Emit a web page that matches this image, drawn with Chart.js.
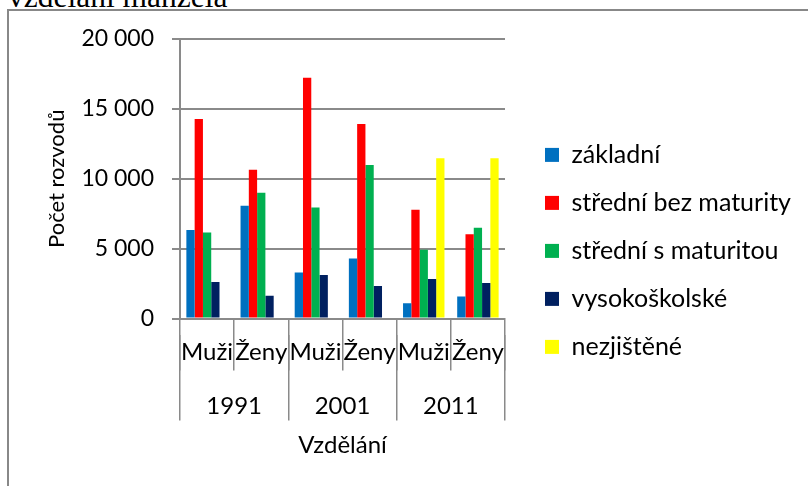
<!DOCTYPE html>
<html>
<head>
<meta charset="utf-8">
<script src="https://cdn.jsdelivr.net/npm/chart.js@4.4.1/dist/chart.umd.min.js"></script>
<style>
  html, body { margin: 0; padding: 0; background: #fff; }
  #wrap { position: relative; width: 808px; height: 486px; overflow: hidden; }
  #doctext { position: absolute; left: 8px; top: -19px; font-family: "Liberation Serif", serif; font-size: 31.5px; line-height: 31px; color: #000; white-space: nowrap; }
  #frame { position: absolute; left: 7px; top: 9px; width: 900px; height: 600px; border: 2px solid #888; }
  canvas { position: absolute; left: 0; top: 0; }
</style>
</head>
<body>
<div id="wrap">
  <div id="doctext">vzdělání manžela</div>
  <div id="frame"></div>
  <canvas id="c" width="808" height="486"></canvas>
</div>
<script>
// ---- data ----
const categories = ['Muži', 'Ženy', 'Muži', 'Ženy', 'Muži', 'Ženy'];
const years = ['1991', '2001', '2011'];
const seriesNames = ['základní', 'střední bez maturity', 'střední s maturitou', 'vysokoškolské', 'nezjištěné'];
const zakladni = [6330, 8070, 3300, 4300, 1100, 1580];
const stredniBezMaturity = [14280, 10650, 17220, 13920, 7790, 6020];
const stredniSMaturitou = [6160, 9000, 7950, 10990, 4920, 6500];
const vysokoskolske = [2610, 1630, 3110, 2320, 2820, 2540];
const nezjistene = [null, null, null, null, 11460, 11460];
const yTicks = [0, 5000, 10000, 15000, 20000];
const seriesColors = ['#0070C0', '#FF0000', '#00B050', '#002060', '#FFFF00'];

const FONT = 'Lato';
const values = [zakladni, stredniBezMaturity, stredniSMaturitou, vysokoskolske, nezjistene];

const fmt = v => String(v).replace(/\B(?=(\d{3})+(?!\d))/g, ' ');

// let the legend box reach the right edge so its labels are not clipped
const widenLegend = {
  id: 'widenLegend',
  afterLayout(chart) {
    const l = chart.legend;
    if (l) { l.right = chart.width; l.width = l.right - l.left; }
  }
};

new Chart(document.getElementById('c'), {
  type: 'bar',
  plugins: [widenLegend],
  data: {
    labels: categories,
    datasets: values.map((d, i) => ({
      label: seriesNames[i],
      data: d,
      backgroundColor: seriesColors[i],
      borderWidth: 0,
      categoryPercentage: 0.765,
      barPercentage: 1.0
    }))
  },
  options: {
    responsive: false,
    devicePixelRatio: 1,
    animation: false,
    layout: { padding: { left: 0, top: 39, right: 181.6, bottom: 28 } },
    plugins: {
      tooltip: { enabled: false },
      legend: {
        position: 'right',
        title: { display: true, text: ' ', font: { size: 4 }, padding: 0 },
        labels: {
          boxWidth: 14, boxHeight: 14, padding: 23,
          color: '#000',
          font: { family: FONT, size: 25 }
        }
      }
    },
    scales: {
      x: {
        type: 'category',
        offset: true,
        grid: { drawOnChartArea: false, offset: true, tickLength: 52, color: '#8a8a8a', lineWidth: 1.5 },
        border: { color: '#8a8a8a', width: 2 },
        ticks: { mirror: true, padding: -47.7, color: '#000', autoSkip: false, maxRotation: 0, font: { family: FONT, size: 24 } },
        afterFit: a => { a.height = 16; }
      },
      x2: {
        type: 'category',
        labels: years,
        position: 'bottom',
        offset: true,
        grid: { drawOnChartArea: false, offset: true, tickLength: 86, color: '#8a8a8a', lineWidth: 1.5 },
        border: { display: false },
        ticks: { padding: -29, color: '#000', autoSkip: false, maxRotation: 0, font: { family: FONT, size: 24 } },
        title: { display: true, text: 'Vzdělání', color: '#000', font: { family: FONT, size: 24 }, padding: { top: 0, bottom: -2 } },
        afterFit: a => { a.height = 123.5; }
      },
      y: {
        min: 0, max: 20000,
        afterBuildTicks: a => { a.ticks = yTicks.map(v => ({ value: v })); },
        grid: { color: '#8a8a8a', lineWidth: 2, tickLength: 8 },
        border: { color: '#8a8a8a', width: 2 },
        ticks: { padding: 18, color: '#000', font: { family: FONT, size: 23 }, callback: v => fmt(v) },
        title: { display: true, text: 'Počet rozvodů', color: '#000', font: { family: FONT, size: 22 }, padding: { top: 44, bottom: 0 } },
        afterFit: a => { a.width = 180; }
      },
      sp: {
        type: 'linear',
        position: 'right',
        display: true,
        grid: { display: false },
        ticks: { display: false },
        border: { display: false },
        afterFit: a => { a.width = 17; }
      }
    }
  }
});
</script>
</body>
</html>
